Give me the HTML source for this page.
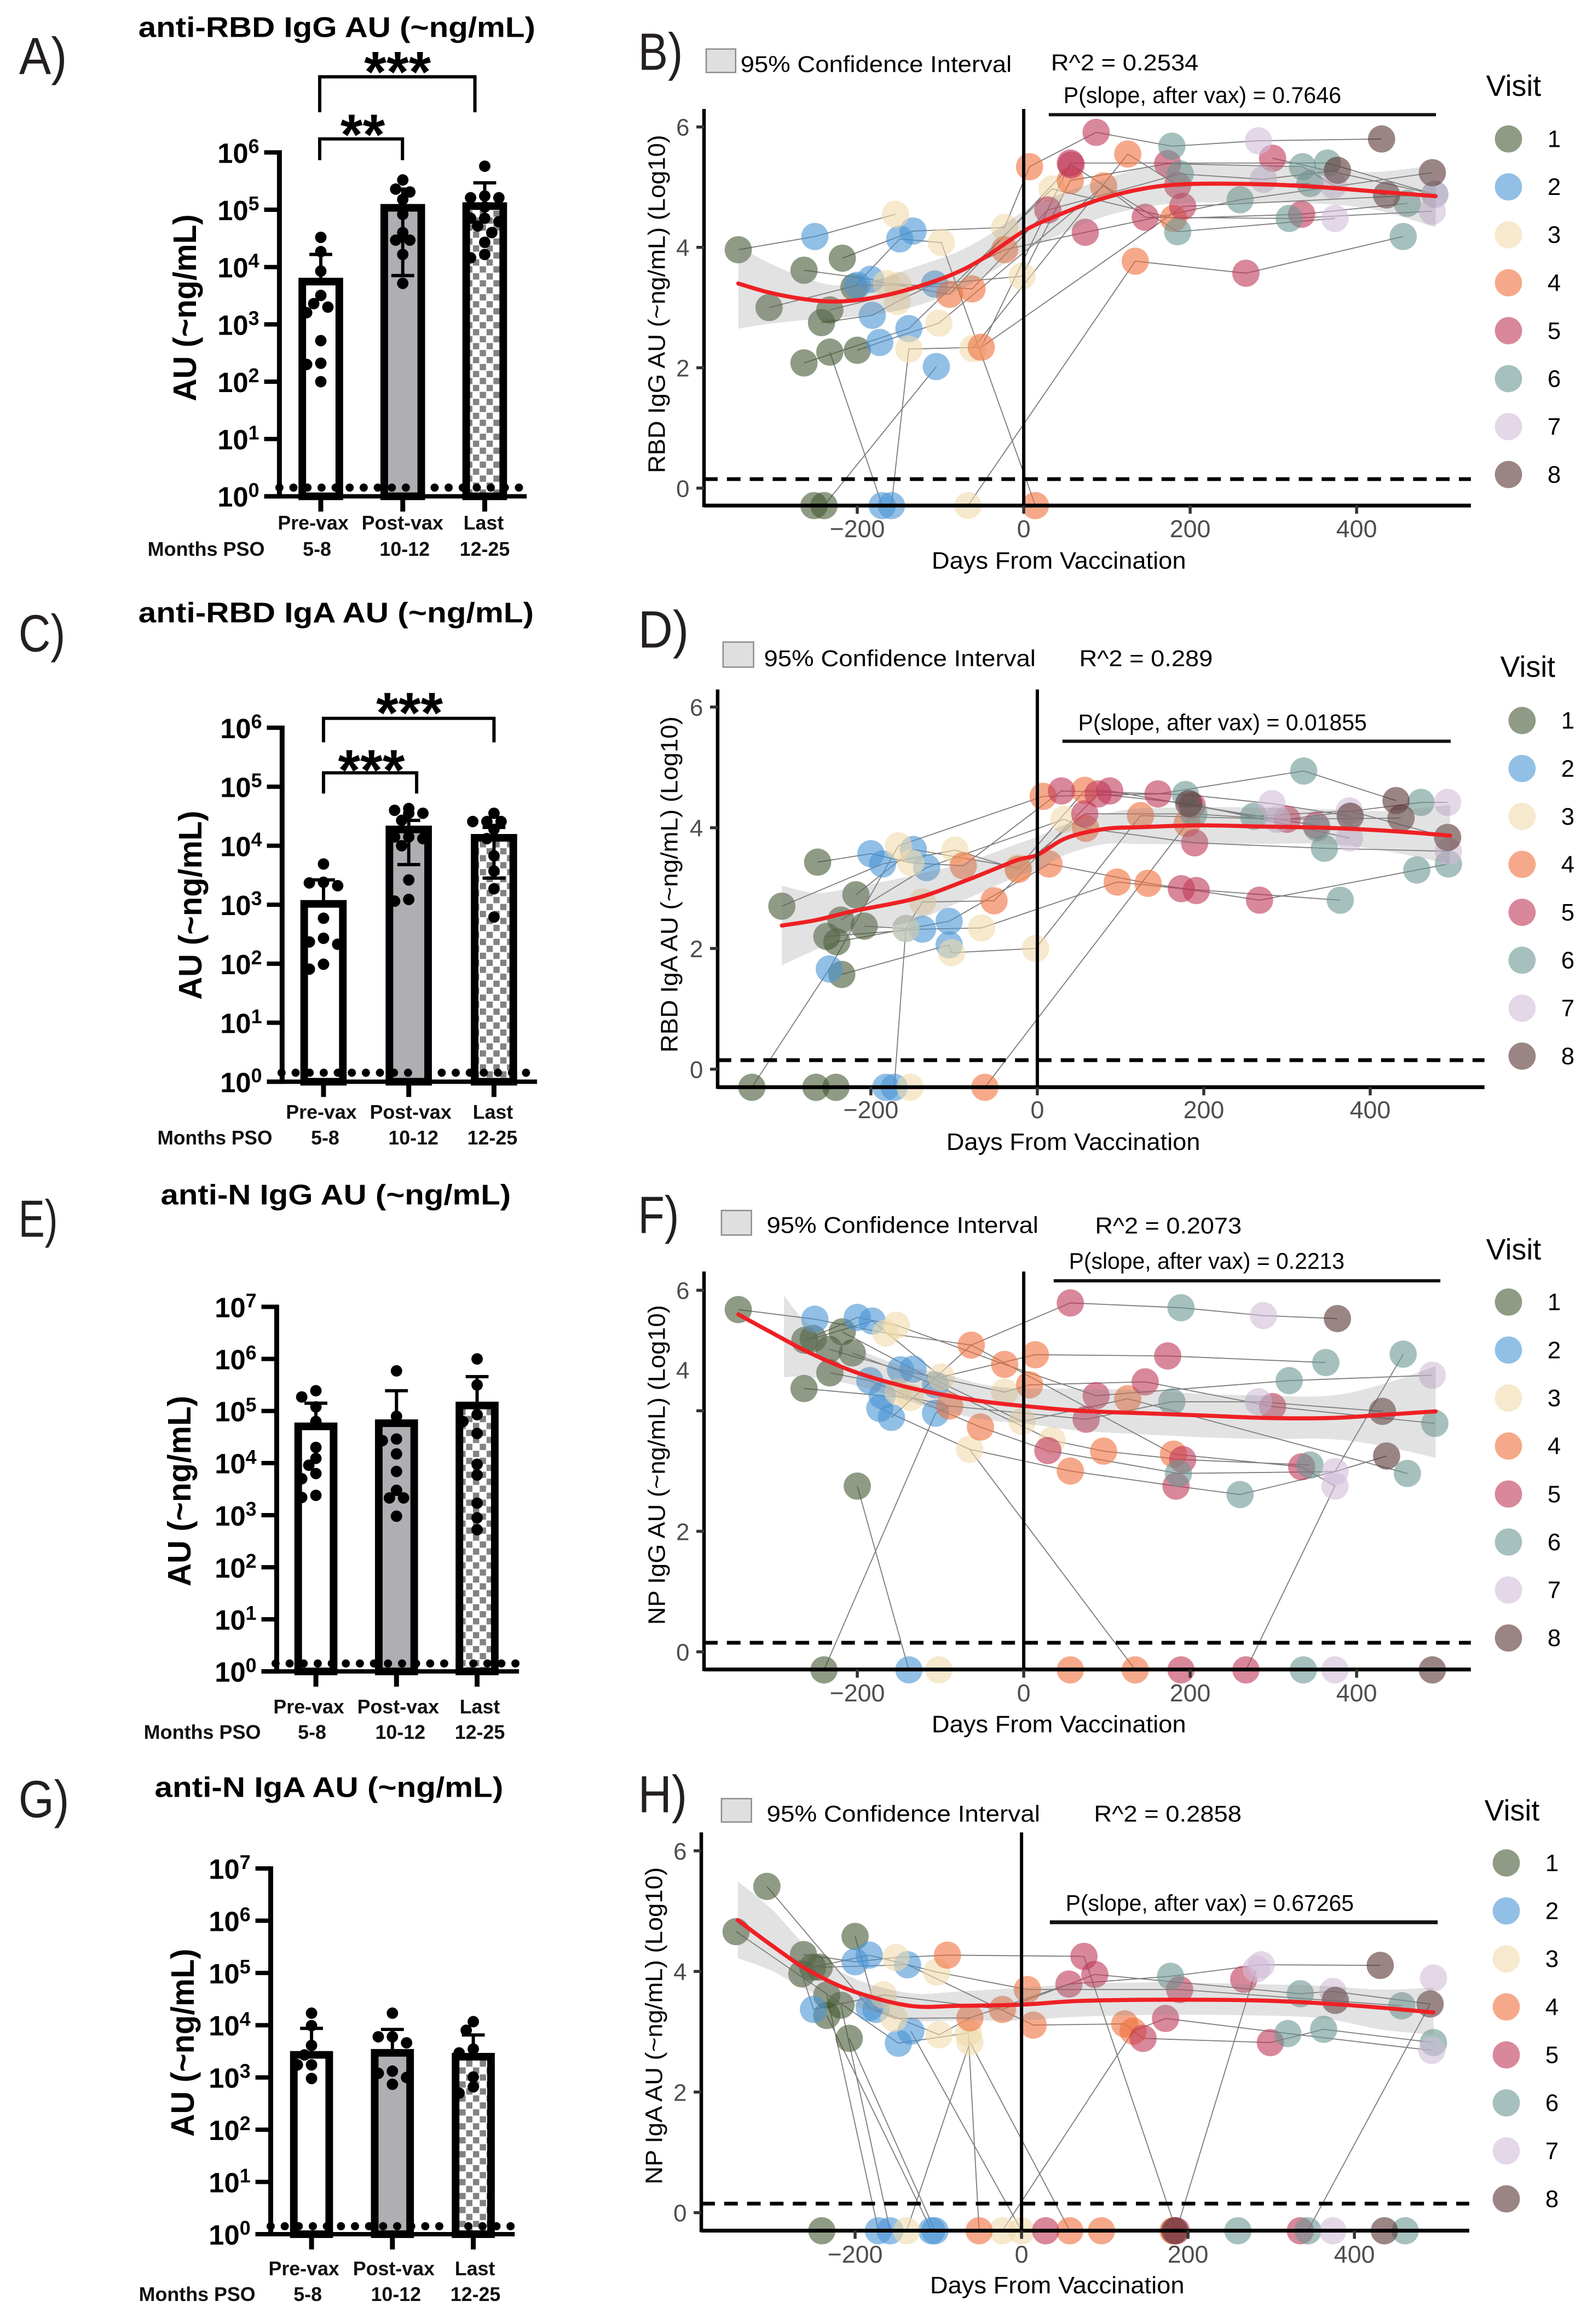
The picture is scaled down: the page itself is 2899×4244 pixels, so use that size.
<!DOCTYPE html>
<html lang="en">
<head>
<meta charset="utf-8">
<title>Antibody AU by visit and days from vaccination</title>
<style>
html,body{margin:0;padding:0;background:#fff}
svg{display:block;font-family:"Liberation Sans",sans-serif}
.letter{font-size:96px;fill:#231f20}
.title{font-size:52px;font-weight:700;fill:#000}
.ytitle{font-size:60px;font-weight:700;fill:#000}
.xcat{font-size:36px;font-weight:700;fill:#111}
.stars{font-size:105px;font-weight:700;fill:#000;text-anchor:middle}
.note{font-size:42px;fill:#000}
.stitle{font-size:44px;fill:#000}
.visit{font-size:54px;fill:#000}
.bracket{fill:none;stroke:#000;stroke-width:6}
.keybox{fill:#dfdfdf;stroke:#8c8c8c;stroke-width:2.5}
.rule{stroke:#111;stroke-width:6}
</style>
</head>
<body>
<svg id="figure" xmlns="http://www.w3.org/2000/svg" width="2899" height="4244" viewBox="0 0 2899 4244">
<defs>
<pattern id="checker" patternUnits="userSpaceOnUse" x="868.4" y="604" width="25" height="25.6">
<rect width="25" height="25.6" fill="#fff"/>
<rect width="11.5" height="11.5" fill="#828282"/>
<rect x="12.5" y="12.8" width="11.5" height="11.5" fill="#828282"/>
</pattern>
</defs>
<rect width="2899" height="4244" fill="#fff"/>

<!-- Panel A -->
<g id="panel-a" transform="matrix(.9949 0 0 .9949 0 0)">
<text class="letter" x="35" y="136" textLength="88" lengthAdjust="spacingAndGlyphs">A)</text>
<text class="title" x="254" y="68" textLength="729" lengthAdjust="spacingAndGlyphs">anti-RBD IgG AU (~ng/mL)</text>
<text class="ytitle" transform="translate(360,565) rotate(-90)" text-anchor="middle" textLength="343" lengthAdjust="spacingAndGlyphs">AU (~ng/mL)</text>
<path class="bracket" d="M587 206V141H872V206"/>
<path class="bracket" d="M587 294V255H739V294"/>
<text class="stars" x="730" y="168">***</text>
<text class="stars" x="666" y="283">**</text>
<text class="xcat" x="575" y="972" text-anchor="middle">Pre-vax</text>
<text class="xcat" x="739" y="972" text-anchor="middle">Post-vax</text>
<text class="xcat" x="888" y="972" text-anchor="middle">Last</text>
<text class="xcat" x="271" y="1020" textLength="215" lengthAdjust="spacingAndGlyphs">Months PSO</text>
<text class="xcat" x="582" y="1020" text-anchor="middle">5-8</text>
<text class="xcat" x="743" y="1020" text-anchor="middle">10-12</text>
<text class="xcat" x="890" y="1020" text-anchor="middle">12-25</text>
</g>

<!-- Panel C -->
<g id="panel-c" transform="matrix(.9949 0 0 .9949 0 5.51)">
<text class="letter" x="34" y="1190" textLength="86" lengthAdjust="spacingAndGlyphs">C)</text>
<text class="title" x="254" y="1137" textLength="726" lengthAdjust="spacingAndGlyphs">anti-RBD IgA AU (~ng/mL)</text>
<text class="ytitle" transform="translate(370,1656) rotate(-90)" text-anchor="middle" textLength="347" lengthAdjust="spacingAndGlyphs">AU (~ng/mL)</text>
<path class="bracket" d="M594 1357V1313H907V1357"/>
<path class="bracket" d="M594 1451V1413H765V1451"/>
<text class="stars" x="752" y="1339">***</text>
<text class="stars" x="682" y="1444">***</text>
<text class="xcat" x="590" y="2048" text-anchor="middle">Pre-vax</text>
<text class="xcat" x="754" y="2048" text-anchor="middle">Post-vax</text>
<text class="xcat" x="905" y="2048" text-anchor="middle">Last</text>
<text class="xcat" x="289" y="2095" textLength="211" lengthAdjust="spacingAndGlyphs">Months PSO</text>
<text class="xcat" x="597" y="2095" text-anchor="middle">5-8</text>
<text class="xcat" x="759" y="2095" text-anchor="middle">10-12</text>
<text class="xcat" x="904" y="2095" text-anchor="middle">12-25</text>
</g>

<!-- Panel E -->
<g id="panel-e" transform="matrix(.9949 0 0 .9949 0 10.86)">
<text class="letter" x="34" y="2259" textLength="72" lengthAdjust="spacingAndGlyphs">E)</text>
<text class="title" x="295" y="2200" textLength="643" lengthAdjust="spacingAndGlyphs">anti-N IgG AU (~ng/mL)</text>
<text class="ytitle" transform="translate(350,2726) rotate(-90)" text-anchor="middle" textLength="350" lengthAdjust="spacingAndGlyphs">AU (~ng/mL)</text>
<text class="xcat" x="567" y="3134" text-anchor="middle">Pre-vax</text>
<text class="xcat" x="731" y="3134" text-anchor="middle">Post-vax</text>
<text class="xcat" x="881" y="3134" text-anchor="middle">Last</text>
<text class="xcat" x="264" y="3181" textLength="215" lengthAdjust="spacingAndGlyphs">Months PSO</text>
<text class="xcat" x="573" y="3181" text-anchor="middle">5-8</text>
<text class="xcat" x="735" y="3181" text-anchor="middle">10-12</text>
<text class="xcat" x="881" y="3181" text-anchor="middle">12-25</text>
</g>

<!-- Panel G -->
<g id="panel-g" transform="matrix(.9949 0 0 .9949 0 16.32)">
<text class="letter" x="34" y="3319" textLength="93" lengthAdjust="spacingAndGlyphs">G)</text>
<text class="title" x="284" y="3282" textLength="640" lengthAdjust="spacingAndGlyphs">anti-N IgA AU (~ng/mL)</text>
<text class="ytitle" transform="translate(356,3733) rotate(-90)" text-anchor="middle" textLength="345" lengthAdjust="spacingAndGlyphs">AU (~ng/mL)</text>
<text class="xcat" x="558" y="4160" text-anchor="middle">Pre-vax</text>
<text class="xcat" x="723" y="4160" text-anchor="middle">Post-vax</text>
<text class="xcat" x="872" y="4160" text-anchor="middle">Last</text>
<text class="xcat" x="255" y="4207" textLength="214" lengthAdjust="spacingAndGlyphs">Months PSO</text>
<text class="xcat" x="565" y="4207" text-anchor="middle">5-8</text>
<text class="xcat" x="727" y="4207" text-anchor="middle">10-12</text>
<text class="xcat" x="873" y="4207" text-anchor="middle">12-25</text>
</g>

<!-- Panel B -->
<g id="panel-b" transform="matrix(.9949 0 0 .9949 5.61 0)">
<text class="letter" x="1166" y="128" textLength="82" lengthAdjust="spacingAndGlyphs">B)</text>
<rect class="keybox" x="1291" y="90" width="54" height="43"/>
<text class="note" x="1354" y="132" textLength="498" lengthAdjust="spacingAndGlyphs">95% Confidence Interval</text>
<text class="note" x="1924" y="129" textLength="271" lengthAdjust="spacingAndGlyphs">R^2 = 0.2534</text>
<text class="note" x="1947" y="189" textLength="510" lengthAdjust="spacingAndGlyphs">P(slope, after vax) = 0.7646</text>
<line class="rule" x1="1920" x2="2631" y1="210.5" y2="210.5"/>
<text class="stitle" transform="translate(1215,558) rotate(-90)" text-anchor="middle" textLength="621" lengthAdjust="spacingAndGlyphs">RBD IgG AU (~ng/mL) (Log10)</text>
<text class="stitle" x="1705" y="1044" textLength="467" lengthAdjust="spacingAndGlyphs">Days From Vaccination</text>
<text class="visit" x="2723" y="176">Visit</text>
</g>

<!-- Panel D -->
<g id="panel-d" transform="matrix(.9949 0 0 .9949 5.61 5.51)">
<text class="letter" x="1166" y="1183" textLength="93" lengthAdjust="spacingAndGlyphs">D)</text>
<rect class="keybox" x="1322" y="1173" width="56" height="46"/>
<text class="note" x="1397" y="1217" textLength="499" lengthAdjust="spacingAndGlyphs">95% Confidence Interval</text>
<text class="note" x="1976" y="1217" textLength="245" lengthAdjust="spacingAndGlyphs">R^2 = 0.289</text>
<text class="note" x="1974" y="1335" textLength="530" lengthAdjust="spacingAndGlyphs">P(slope, after vax) = 0.01855</text>
<line class="rule" x1="1945" x2="2658" y1="1355" y2="1355"/>
<text class="stitle" transform="translate(1238,1618) rotate(-90)" text-anchor="middle" textLength="617" lengthAdjust="spacingAndGlyphs">RBD IgA AU (~ng/mL) (Log10)</text>
<text class="stitle" x="1732" y="2105" textLength="466" lengthAdjust="spacingAndGlyphs">Days From Vaccination</text>
<text class="visit" x="2749" y="1237">Visit</text>
</g>

<!-- Panel F -->
<g id="panel-f" transform="matrix(.9949 0 0 .9949 5.61 10.86)">
<text class="letter" x="1166" y="2252" textLength="75" lengthAdjust="spacingAndGlyphs">F)</text>
<rect class="keybox" x="1319" y="2211" width="55" height="45"/>
<text class="note" x="1402" y="2252" textLength="499" lengthAdjust="spacingAndGlyphs">95% Confidence Interval</text>
<text class="note" x="2005" y="2253" textLength="269" lengthAdjust="spacingAndGlyphs">R^2 = 0.2073</text>
<text class="note" x="1957" y="2318" textLength="506" lengthAdjust="spacingAndGlyphs">P(slope, after vax) = 0.2213</text>
<line class="rule" x1="1929" x2="2639" y1="2340" y2="2340"/>
<text class="stitle" transform="translate(1215,2678) rotate(-90)" text-anchor="middle" textLength="587" lengthAdjust="spacingAndGlyphs">NP IgG AU (~ng/mL) (Log10)</text>
<text class="stitle" x="1705" y="3169" textLength="467" lengthAdjust="spacingAndGlyphs">Days From Vaccination</text>
<text class="visit" x="2723" y="2301">Visit</text>
</g>

<!-- Panel H -->
<g id="panel-h" transform="matrix(.9949 0 0 .9949 5.61 16.32)">
<text class="letter" x="1166" y="3310" textLength="90" lengthAdjust="spacingAndGlyphs">H)</text>
<rect class="keybox" x="1319" y="3285" width="55" height="43"/>
<text class="note" x="1402" y="3327" textLength="502" lengthAdjust="spacingAndGlyphs">95% Confidence Interval</text>
<text class="note" x="2003" y="3327" textLength="271" lengthAdjust="spacingAndGlyphs">R^2 = 0.2858</text>
<text class="note" x="1951" y="3491" textLength="529" lengthAdjust="spacingAndGlyphs">P(slope, after vax) = 0.67265</text>
<line class="rule" x1="1922" x2="2634" y1="3512" y2="3512" style="stroke-width:7"/>
<text class="stitle" transform="translate(1210,3702) rotate(-90)" text-anchor="middle" textLength="582" lengthAdjust="spacingAndGlyphs">NP IgA AU (~ng/mL) (Log10)</text>
<text class="stitle" x="1702" y="4193" textLength="467" lengthAdjust="spacingAndGlyphs">Days From Vaccination</text>
<text class="visit" x="2720" y="3325">Visit</text>
</g>
</svg>

<script>
// ---------- bar chart data ----------
const lodValue = 1.42;
const decadeTicksSix = [0,1,2,3,4,5,6];
const decadeTicksSeven = [0,1,2,3,4,5,6,7];

const aMeans = [6500,126000,135000];
const aUpper = [16600,229000,295000];
const aLower = [null,7100,null];
const aDotsPre = [33000,18600,8500,3200,2300,2000,1600,520,210,200,100];
const aDotsPost = [331000,229000,204000,151000,83000,40000,29500,29500,16600,5200];
const aDotsLast = [575000,174000,162000,162000,112000,71000,71000,62000,52000,40000,27000,16600,14500];

const cMeans = [1200,21900,15800];
const cUpper = [2630,26900,20400];
const cLower = [null,4790,2820];
const cDotsPre = [4900,2400,2340,2100,590,270,234,214,98,81];
const cDotsPost = [42700,39800,35500,35500,26900,14100,14100,13200,10000,2630,1230,1150];
const cDotsLast = [35500,25700,25700,25700,19000,13200,6760,3720,1860,617];

const eMeans = [60000,69000,151000];
const eUpper = [141000,245000,457000];
const eLower = [null,null,null];
const eDotsPre = [245000,186000,120000,63000,20000,12300,9100,6300,5000,2400,2190];
const eDotsPost = [589000,79000,29000,27000,15000,6900,3000,2140,2140,955];
const eDotsLast = [1000000,316000,85000,63000,37000,9500,5900,1700,890,525];

const gMeans = [3200,3500,2950];
const gUpper = [8700,8300,6500];
const gLower = [null,null,null];
const gDotsPre = [17000,9800,4100,2700,1740,1740,955];
const gDotsPost = [17000,6000,6000,4600,1320,1200,1000,740];
const gDotsLast = [11700,8000,3500,2950,1020,660,500];

// ---------- scatter data: each subject is a chain of [visit, day, log10 value] ----------
const visitLabels = [1,2,3,4,5,6,7,8];
const xTickValues = [-200,0,200,400];
const xTickLabels = ['\u2212200','0','200','400'];
const yTickValues = [0,2,4,6];
const lodLog = 0.15;

const bSubjects = [
 [[1,-343,3.96],[2,-251,4.18],[3,-154,4.55]],
 [[1,-218,3.82],[2,-133,4.27],[3,-23,4.33],[4,7,5.34],[5,87,5.91],[6,178,5.68],[7,282,5.77],[8,430,5.8]],
 [[1,-204,3.34],[2,-149,4.14],[3,-99,4.08],[4,14,-.29]],
 [[1,-264,3.62],[2,-184,3.47],[3,-165,3.4],[4,-62,3.31],[5,29,4.62],[6,188,5.22],[7,288,5.13],[8,377,5.28]],
 [[1,-306,3.0],[2,-200,3.37],[3,-151,3.37],[4,-89,3.22],[5,57,5.37],[6,185,4.26],[7,374,4.48]],
 [[1,-233,2.96],[2,-107,3.39],[3,-2,3.52],[4,56,5.11],[5,173,5.39],[6,335,5.34],[7,372,5.03],[8,436,4.87]],
 [[1,-243,2.75],[2,-182,2.87],[3,-152,3.1],[4,-23,3.96],[5,74,4.25],[6,260,4.79],[8,491,5.24]],
 [[1,-233,2.26],[2,-170,-.29]],
 [[1,-200,2.29],[2,-173,2.42],[3,-102,2.74],[4,96,5.02],[5,146,4.5],[6,319,4.48],[7,491,4.6]],
 [[1,-264,2.08],[2,-138,2.65],[3,34,4.97],[4,180,4.48],[5,334,4.55],[6,461,4.73]],
 [[1,-252,-.29],[2,-159,-.29],[3,-138,2.31],[4,-51,2.34],[5,56,5.4],[6,365,5.4],[7,494,4.88]],
 [[1,-240,-.29],[2,-105,2.02]],
 [[3,-61,2.32],[4,125,5.55],[5,185,5.03],[6,344,5.06]],
 [[3,-67,-.29],[4,134,3.77],[5,267,3.57],[6,456,4.18]],
 [[4,-51,2.34],[5,191,4.68],[6,494,4.88]],
 [[5,299,5.48],[6,494,4.88]]
];
const bFitDays = [-343,-306,-264,-226,-182,-136,-84,-46,0,37,90,142,195,278,346,421,495];
const bFitValues = [3.40,3.25,3.14,3.10,3.16,3.31,3.56,3.84,4.27,4.51,4.79,4.97,5.05,5.05,5.01,4.93,4.85];
const bCiUpper = [4.02,3.74,3.5,3.37,3.44,3.65,3.9,4.17,4.6,4.85,5.1,5.31,5.37,5.37,5.31,5.25,5.37];
const bCiLower = [2.65,2.73,2.79,2.82,2.88,3.0,3.25,3.53,3.93,4.17,4.48,4.66,4.74,4.74,4.73,4.63,4.33];

const dSubjects = [
 [[1,-343,-.3],[2,-250,1.66],[3,-167,3.7],[4,7,4.52],[5,145,4.56],[6,320,4.94],[8,431,4.45]],
 [[1,-266,-.3],[2,-182,-.3]],
 [[1,-242,-.3],[2,-172,-.3],[3,-158,2.33]],
 [[1,-264,3.43],[2,-200,3.57],[3,-152,3.42],[4,-89,3.37],[5,29,4.61],[6,178,4.55],[7,282,4.4],[8,376,4.19]],
 [[1,-307,2.70],[2,-186,3.4],[3,-99,3.63],[4,-23,3.31],[5,57,4.23],[6,188,4.23],[7,288,4.14],[8,437,4.16]],
 [[1,-218,2.89],[2,-149,3.64],[3,-23,3.34],[4,57,4.62],[5,87,4.61],[6,260,4.19],[7,375,4.28],[8,493,3.84]],
 [[1,-236,2.47],[2,-133,3.34],[3,32,4.14],[4,58,3.99],[5,189,3.75],[6,345,3.66],[7,494,3.61]],
 [[1,-208,2.37],[2,-158,2.33],[3,-138,2.77],[4,-52,2.79],[5,73,4.56],[8,182,4.4],[7,375,3.83]],
 [[1,-253,2.2],[2,-138,2.32],[3,-67,2.34],[4,96,3.1],[5,173,2.99],[6,364,2.8]],
 [[1,-241,2.11],[2,-106,2.45],[4,14,3.4],[4,133,3.08],[5,191,2.96],[5,267,2.8],[6,456,3.3],[6,494,3.4]],
 [[1,-235,1.57],[2,-106,2.06],[3,-103,1.93],[3,-2,2.0],[4,124,4.2],[5,300,4.14],[6,461,4.42],[7,493,4.42]],
 [[4,-63,-.3],[4,180,4.07],[5,186,4.37],[5,335,4.04],[6,336,4.0]],
 [[3,-153,-.3]]
];
const dFitDays = [-307,-266,-221,-146,-85,-25,0,35,81,126,194,269,345,420,496];
const dFitValues = [2.38,2.47,2.62,2.83,3.13,3.46,3.55,3.83,3.98,4.01,4.04,4.02,4.0,3.95,3.87];
const dCiDays = [-307,-266,-221,-146,-85,-25,0,35,81,126,231,345,420,496];
const dCiUpper = [3.04,2.92,3.01,3.22,3.43,3.73,3.85,4.06,4.23,4.32,4.34,4.31,4.28,4.38];
const dCiLower = [1.72,1.98,2.22,2.47,2.82,3.19,3.3,3.56,3.73,3.73,3.73,3.73,3.61,3.4];

const fSubjects = [
 [[1,-343,5.68],[2,-251,5.52],[3,-166,5.29],[4,-63,5.09],[5,56,5.79],[6,189,5.71],[7,288,5.58],[8,377,5.53]],
 [[1,-264,4.37],[2,-170,4.25],[3,-136,4.22],[4,-89,4.08],[5,75,3.86],[6,178,4.15],[7,282,4.15],[8,431,3.99]],
 [[1,-233,4.63],[2,-185,4.5],[3,-151,4.31],[4,-52,3.73],[5,29,3.34],[6,186,2.96],[7,374,2.99],[8,436,3.25]],
 [[1,-263,5.17],[2,-200,5.55],[3,-153,5.42],[4,-23,4.77],[5,87,4.25],[6,319,4.5],[7,491,4.59]],
 [[1,-253,5.2],[2,-182,5.49],[3,-99,4.56],[4,14,4.93],[5,173,4.91],[6,363,4.8]],
 [[1,-234,5.02],[2,-148,4.68],[3,-23,4.31],[4,7,4.43],[5,146,4.48],[5,299,4.07],[6,494,3.79]],
 [[1,-218,5.31],[2,-133,4.69],[3,-2,3.82],[4,125,4.2],[6,461,2.96]],
 [[1,-206,4.96],[2,-106,4.43],[3,34,3.51],[4,96,3.33],[5,191,3.19],[6,344,3.1]],
 [[2,-173,4.04],[3,-65,3.36],[4,56,3.0],[5,183,2.75],[6,260,2.61],[7,374,2.99],[8,436,3.25]],
 [[2,-159,3.89],[4,-63,5.09],[4,180,3.28],[5,334,3.07],[7,374,2.75]],
 [[1,-200,2.75],[2,-138,-.3]],
 [[1,-240,-.3],[2,-106,3.96],[4,-89,4.08]],
 [[3,-65,3.36],[4,134,-.3]],
 [[5,267,-.3],[7,374,2.75]],
 [[7,374,2.99],[6,456,4.94]],
 [[3,-102,-.3]],[[4,56,-.3]],[[5,189,-.3]],[[6,336,-.3]],[[7,374,-.3]],[[8,491,-.3]]
];
const fFitDays = [-343,-302,-257,-204,-151,-99,-46,0,67,142,218,293,368,429,495];
const fFitValues = [5.60,5.29,4.96,4.65,4.43,4.27,4.15,4.08,4.0,3.96,3.92,3.88,3.88,3.93,3.99];
const fCiDays = [-288,-257,-204,-151,-99,-46,0,67,142,218,293,368,429,495];
const fCiUpper = [5.91,5.42,5.05,4.77,4.62,4.43,4.37,4.37,4.34,4.28,4.25,4.25,4.43,4.74];
const fCiLower = [4.56,4.56,4.43,4.22,4.0,3.85,3.79,3.67,3.61,3.56,3.53,3.53,3.42,3.22];

const hSubjects = [
 [[1,-306,5.41],[2,-183,3.4],[3,-153,3.22],[4,-62,3.23],[5,57,3.79],[6,179,3.92],[7,288,4.11],[8,431,4.1]],
 [[1,-343,4.66],[2,-148,2.81],[3,-64,2.98]],
 [[1,-262,4.28],[2,-200,4.16],[3,-151,4.23],[4,-89,4.27],[5,75,4.25]],
 [[1,-264,3.96],[2,-250,3.37],[3,-166,3.61],[4,-23,3.37],[5,88,3.95],[6,335,3.63],[7,374,3.67],[8,491,3.46]],
 [[1,-251,4.07],[2,-183,4.27],[3,-102,3.99],[4,7,3.7],[5,190,3.7],[6,457,3.43]],
 [[1,-243,4.07],[2,-137,4.11],[4,14,3.11],[4,124,3.13],[5,146,2.89],[5,299,2.82],[6,363,3.04],[6,495,2.82]],
 [[1,-200,4.58],[2,-175,3.37],[3,-99,2.95],[4,-62,3.23]],
 [[1,-234,3.61],[2,-172,-.3],[3,-138,-.3],[3,-62,2.83]],
 [[1,-217,3.44],[2,-158,-.3]],
 [[1,-234,3.27],[2,-108,-.3]],
 [[1,-207,2.89],[2,-104,-.3]],
 [[1,-240,-.3]],
 [[2,-133,3.01],[3,0,-.3]],
 [[3,-62,2.83],[4,58,-.3]],
 [[3,-23,-.3],[4,134,3.01],[5,173,3.22],[6,320,2.97],[7,493,2.69]],
 [[4,-51,-.3],[3,-64,2.98]],
 [[5,75,4.25],[5,186,-.3],[7,282,4.04]],
 [[5,29,-.3]],[[4,96,-.3]],[[4,182,-.3]],[[6,260,-.3]],[[5,335,-.3]],
 [[6,344,-.3],[8,491,3.46]],
 [[7,374,-.3]],[[8,436,-.3]],[[6,461,-.3]],[[8,184,-.3]],
 [[7,495,3.89]],[[5,267,3.87]],[[8,377,3.52]],[[6,495,2.82]]
];
const hFitDays = [-341,-300,-255,-202,-134,-74,0,69,160,280,363,431,495];
const hFitValues = [4.85,4.43,4.01,3.67,3.43,3.43,3.45,3.51,3.53,3.52,3.47,3.4,3.32];
const hCiUpper = [5.49,5.03,4.37,3.89,3.64,3.67,3.73,3.79,3.82,3.79,3.76,3.7,3.73];
const hCiLower = [4.22,4.01,3.67,3.43,3.19,3.19,3.19,3.25,3.28,3.27,3.22,3.04,2.95];

// ---------- drawing helpers ----------
const NS = 'http://www.w3.org/2000/svg';
const visitFill = ['#445832','#4a95d4','#f0daac','#f0703c','#c03758','#6b9693','#d0bcd9','#583432'];
function mk(tag, attrs, parent){
  const el = document.createElementNS(NS, tag);
  for (const k in attrs) el.setAttribute(k, attrs[k]);
  parent.appendChild(el);
  return el;
}
function smoothSegs(pts){
  let d = '';
  for (let i = 0; i < pts.length - 1; i++){
    const p0 = pts[Math.max(i-1,0)], p1 = pts[i], p2 = pts[i+1], p3 = pts[Math.min(i+2,pts.length-1)];
    const c1x = p1[0] + (p2[0]-p0[0])/6, c1y = p1[1] + (p2[1]-p0[1])/6;
    const c2x = p2[0] - (p3[0]-p1[0])/6, c2y = p2[1] - (p3[1]-p1[1])/6;
    d += 'C' + c1x.toFixed(1) + ' ' + c1y.toFixed(1) + ' ' + c2x.toFixed(1) + ' ' + c2y.toFixed(1) + ' ' + p2[0].toFixed(1) + ' ' + p2[1].toFixed(1);
  }
  return d;
}
function swarmOffsets(ys, minDist, step){
  const placed = [];
  return ys.map(function(y){
    const tries = [0,-1,1,-2,2,-3,3];
    let off = 0;
    for (const t of tries){
      const candidate = t * step;
      if (placed.every(function(p){ const dx = p[0]-candidate, dy = p[1]-y; return dx*dx + dy*dy >= minDist*minDist; })){ off = candidate; break; }
    }
    placed.push([off,y]);
    return off;
  });
}

function drawBars(id, cfg, means, uppers, lowers, dotGroups, ticks){
  const root = document.getElementById(id);
  const yOf = function(v){ return cfg.y0 - Math.log10(v) * cfg.decade; };
  const xOf = function(i){ return cfg.x0 + i * cfg.step; };
  const fills = ['#ffffff','#aeaeb3','url(#checker)'];

  means.forEach(function(m,i){
    const inset = 7;
    const bar = mk('rect',{x:xOf(i)-cfg.barW/2+inset,y:yOf(m)+inset,width:cfg.barW-2*inset,height:cfg.y0-yOf(m)-inset,fill:fills[i],stroke:'#000','stroke-width':14},root);
    
    
  });

  const lodY = yOf(lodValue);
  cfg.lodRuns.forEach(function(run){
    const dotted = mk('line',{x1:run[0],x2:run[1],y1:lodY,y2:lodY,stroke:'#000','stroke-width':15,'stroke-linecap':'round','stroke-dasharray':'0 25.8'},root);
    
    
  });

  const axisY = mk('line',{x1:cfg.axisX,x2:cfg.axisX,y1:yOf(Math.pow(10,ticks[ticks.length-1]))-4,y2:cfg.y0+4,stroke:'#000','stroke-width':9},root);
  
  
  const axisX = mk('line',{x1:cfg.axisX-28,x2:cfg.xEnd,y1:cfg.y0,y2:cfg.y0,stroke:'#000','stroke-width':8},root);
  
  

  ticks.forEach(function(t){
    const y = yOf(Math.pow(10,t));
    const tick = mk('line',{x1:cfg.axisX-28,x2:cfg.axisX,y1:y,y2:y,stroke:'#000','stroke-width':8},root);
    
    
    const label = mk('text',{x:cfg.axisX-37,y:y+19,'text-anchor':'end','font-size':51,'font-weight':700,fill:'#000'},root);
    
    
    const base = mk('tspan',{},label);
    base.textContent = '10';
    const sup = mk('tspan',{'font-size':36,dy:-18},label);
    sup.textContent = String(t);
  });

  means.forEach(function(m,i){
    const tick = mk('line',{x1:xOf(i),x2:xOf(i),y1:cfg.y0,y2:cfg.y0+28,stroke:'#000','stroke-width':9},root);
    
    
    const ys = dotGroups[i].map(yOf);
    const offs = swarmOffsets(ys,18,13);
    ys.forEach(function(y,j){
      const dot = mk('circle',{cx:xOf(i)+offs[j],cy:y,r:10.5,fill:'#000'},root);
      
      
    });
    const errTop = yOf(uppers[i]);
    const errBottom = lowers[i] === null ? yOf(m) : yOf(lowers[i]);
    const stem = mk('line',{x1:xOf(i),x2:xOf(i),y1:errTop,y2:errBottom,stroke:'#000','stroke-width':6},root);
    
    
    const capTop = mk('line',{x1:xOf(i)-21,x2:xOf(i)+21,y1:errTop,y2:errTop,stroke:'#000','stroke-width':6},root);
    
    
    if (lowers[i] !== null){
      const capBottom = mk('line',{x1:xOf(i)-21,x2:xOf(i)+21,y1:errBottom,y2:errBottom,stroke:'#000','stroke-width':6},root);
      
      
    }
  });
}

function drawScatter(id, cfg, subjects, fitDays, fitValues, ciDays, ciUpper, ciLower){
  const root = document.getElementById(id);
  const xOf = function(d){ return cfg.x0 + d * cfg.dayPx; };
  const yOf = function(v){ return cfg.y0 - v * cfg.unitPx; };

  subjects.forEach(function(chain){
    if (chain.length < 2) return;
    const pl = mk('polyline',{points:chain.map(function(p){ return xOf(p[1]).toFixed(1) + ',' + yOf(p[2]).toFixed(1); }).join(' '),fill:'none',stroke:'#7a7a7a','stroke-width':1.8},root);
    
    
  });

  const seen = new Set();
  visitLabels.forEach(function(v){
    subjects.forEach(function(chain){
      chain.forEach(function(p){
        if (p[0] !== v) return;
        const key = p.join('|');
        if (seen.has(key)) return;
        seen.add(key);
        const pt = mk('circle',{cx:xOf(p[1]),cy:yOf(p[2]),r:25,fill:visitFill[v-1],'fill-opacity':0.6},root);
        
        
      });
    });
  });

  const upperPts = ciDays.map(function(d,i){ return [xOf(d),yOf(ciUpper[i])]; });
  const lowerPts = ciDays.map(function(d,i){ return [xOf(d),yOf(ciLower[i])]; }).reverse();
  const ribbon = mk('path',{d:'M' + upperPts[0][0] + ' ' + upperPts[0][1] + smoothSegs(upperPts) + 'L' + lowerPts[0][0] + ' ' + lowerPts[0][1] + smoothSegs(lowerPts) + 'Z',fill:'#8c8c8c','fill-opacity':0.25},root);
  
  

  const fitPts = fitDays.map(function(d,i){ return [xOf(d),yOf(fitValues[i])]; });
  const fit = mk('path',{d:'M' + fitPts[0][0] + ' ' + fitPts[0][1] + smoothSegs(fitPts),fill:'none',stroke:'#ee2024','stroke-width':7.5,'stroke-linecap':'round'},root);
  
  

  const lod = mk('line',{x1:cfg.left,x2:cfg.right,y1:yOf(lodLog),y2:yOf(lodLog),stroke:'#000','stroke-width':7,'stroke-dasharray':'25 17'},root);
  
  

  const vax = mk('line',{x1:xOf(0),x2:xOf(0),y1:cfg.top,y2:cfg.bottom,stroke:'#000','stroke-width':6},root);
  
  
  const axisY = mk('line',{x1:cfg.left,x2:cfg.left,y1:cfg.top,y2:cfg.bottom+3,stroke:'#000','stroke-width':6.5},root);
  
  
  const axisX = mk('line',{x1:cfg.left,x2:cfg.right,y1:cfg.bottom,y2:cfg.bottom,stroke:'#000','stroke-width':7},root);
  
  

  yTickValues.forEach(function(v){
    const y = yOf(v);
    const tick = mk('line',{x1:cfg.left-14,x2:cfg.left,y1:y,y2:y,stroke:'#333','stroke-width':5.5},root);
    
    
    const shift = (cfg.labelShift && cfg.labelShift[v]) || 0;
    const label = mk('text',{x:cfg.left-39,y:y+16+shift,'text-anchor':'middle','font-size':44,fill:'#4d4d4d'},root);
    
    
    label.textContent = String(v);
  });
  xTickValues.forEach(function(d,i){
    const x = xOf(d);
    const tick = mk('line',{x1:x,x2:x,y1:cfg.bottom,y2:cfg.bottom+15,stroke:'#333','stroke-width':5.5},root);
    
    
    const label = mk('text',{x:x,y:cfg.tickBase,'text-anchor':'middle','font-size':45,fill:'#4d4d4d'},root);
    
    
    label.textContent = xTickLabels[i];
  });

  visitLabels.forEach(function(v,i){
    const y = cfg.legendY + i * cfg.legendStep;
    const key = mk('circle',{cx:cfg.legendX,cy:y,r:25,fill:visitFill[v-1],'fill-opacity':0.6},root);
    
    
    const num = mk('text',{x:cfg.legendX+84,y:y+15,'text-anchor':'middle','font-size':44,fill:'#000'},root);
    
    
    num.textContent = String(v);
  });
}

// ---------- render ----------
drawBars('panel-a',{axisX:513,y0:911,decade:105.2,x0:589,step:150.5,barW:82,xEnd:967,lodRuns:[[513,746],[798,955]]},aMeans,aUpper,aLower,[aDotsPre,aDotsPost,aDotsLast],decadeTicksSix);
drawBars('panel-c',{axisX:518,y0:1980,decade:108.3,x0:594,step:156.5,barW:85,xEnd:986,lodRuns:[[517,760],[811,975]]},cMeans,cUpper,cLower,[cDotsPre,cDotsPost,cDotsLast],decadeTicksSix);
drawBars('panel-e',{axisX:508,y0:3057,decade:95.6,x0:580,step:148,barW:79,xEnd:953,lodRuns:[[506,820],[869,950]]},eMeans,eUpper,eLower,[eDotsPre,eDotsPost,eDotsLast],decadeTicksSeven);
drawBars('panel-g',{axisX:497,y0:4084.5,decade:95.9,x0:572,step:148.5,barW:79,xEnd:945,lodRuns:[[497,811],[860,940]]},gMeans,gUpper,gLower,[gDotsPre,gDotsPost,gDotsLast],decadeTicksSeven);

drawScatter('panel-b',{x0:1874,dayPx:1.528,y0:896,unitPx:110.5,left:1287,right:2695,top:200,bottom:928,tickBase:986,legendX:2764,legendY:255,legendStep:88},bSubjects,bFitDays,bFitValues,bFitDays,bCiUpper,bCiLower);
drawScatter('panel-d',{x0:1899,dayPx:1.528,y0:1957,unitPx:110.8,left:1312,right:2720,top:1260,bottom:1990,tickBase:2047,legendX:2789,legendY:1317,legendStep:88},dSubjects,dFitDays,dFitValues,dCiDays,dCiUpper,dCiLower);
drawScatter('panel-f',{x0:1874,dayPx:1.528,y0:3021,unitPx:110.6,left:1287,right:2695,top:2323,bottom:3053.5,tickBase:3112,legendX:2764,legendY:2379,legendStep:88.1,labelShift:{4:-75}},fSubjects,fFitDays,fFitValues,fCiDays,fCiUpper,fCiLower);
drawScatter('panel-h',{x0:1870,dayPx:1.528,y0:4045,unitPx:110.7,left:1282,right:2692,top:3347,bottom:4078,tickBase:4137,legendX:2760,legendY:3403,legendStep:88.1},hSubjects,hFitDays,hFitValues,hFitDays,hCiUpper,hCiLower);
</script>
</body>
</html>
